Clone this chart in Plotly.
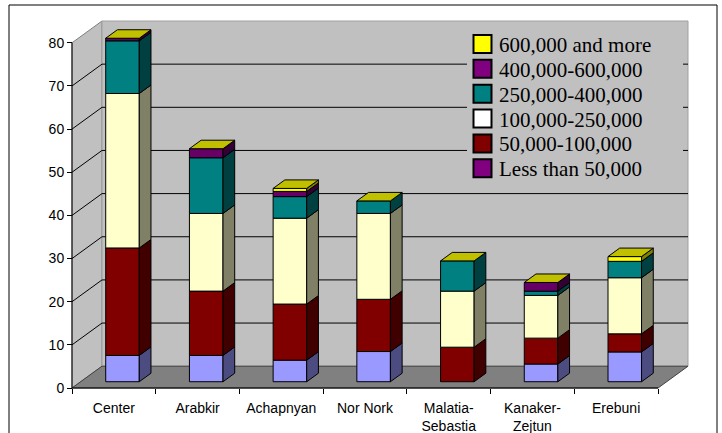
import plotly.graph_objects as go

# ---- data -------------------------------------------------------------
categories = ["Center", "Arabkir", "Achapnyan", "Nor Nork",
              "Malatia-Sebastia", "Kanaker-Zejtun", "Erebuni"]
tick_labels = ["Center", "Arabkir", "Achapnyan", "Nor Nork",
               "Malatia-<br>Sebastia", "Kanaker-<br>Zejtun", "Erebuni"]

less_50k = [6.1, 6.1, 5.0, 7.0, 0.0, 4.1, 6.9]
k50_100k = [24.9, 14.9, 13.0, 12.1, 8.0, 6.0, 4.2]
k100_250k = [35.8, 18.0, 19.9, 19.9, 13.0, 9.9, 13.0]
k250_400k = [12.2, 12.9, 5.0, 2.9, 7.0, 1.0, 3.8]
k400_600k = [0.6, 2.1, 1.2, 0.0, 0.0, 2.0, 0.0]
k600_plus = [0.0, 0.0, 0.7, 0.0, 0.0, 0.0, 1.1]

series_names = ["Less than 50,000", "50,000-100,000", "100,000-250,000",
                "250,000-400,000", "400,000-600,000", "600,000 and more"]
series_values = [less_50k, k50_100k, k100_250k, k250_400k, k400_600k, k600_plus]

y_ticks = [0, 10, 20, 30, 40, 50, 60, 70, 80]

# ---- styling ----------------------------------------------------------
front_colors = ["#9999FF", "#800000", "#FFFFCC", "#008080", "#660066", "#FFFF00"]
side_colors = ["#4C4C80", "#400000", "#808066", "#004040", "#330033", "#808000"]
legend_colors = ["#800080", "#800000", "#FFFFFF", "#008080", "#800080", "#FFFF00"]
top_color = "#C0C000"
wall_color = "#C0C0C0"
floor_color = "#808080"

N = len(categories)
VMAX = 80
DX = 0.3584      # full depth of the box, in category units
DY = 5.05        # full depth of the box, in value units
Z0 = 0.288       # depth of the column front faces
ZB = 0.39        # depth of the columns
BW = 0.401       # column width

# plot area in pixels
W_PX, H_PX = 722, 433
L, R, T, B = 70, 32, 19, 43
PW, PH = W_PX - L - R, H_PX - T - B
X_PAD = 2 / 83.71
Y_PAD = 2 / 4.315
X_RANGE = [-X_PAD, N + DX + X_PAD]
Y_RANGE = [-Y_PAD, VMAX + DY + Y_PAD]

# legend box (pixels)
LEG_X0, LEG_X1, LEG_Y0, LEG_Y1 = 467, 683, 25, 184


def paper(px, py):
    return (px - L) / PW, (H_PX - B - py) / PH


def data(px, py):
    fx, fy = paper(px, py)
    return (X_RANGE[0] + fx * (X_RANGE[1] - X_RANGE[0]),
            Y_RANGE[0] + fy * (Y_RANGE[1] - Y_RANGE[0]))


def px_y(v):
    return H_PX - B - (v - Y_RANGE[0]) / (Y_RANGE[1] - Y_RANGE[0]) * PH


fig = go.Figure()
shapes = []
annotations = []

# ---- box: side wall, back wall, floor ---------------------------------
shapes.append(dict(type="path", xref="x", yref="y", layer="below",
                   path=f"M 0,0 L 0,{VMAX} L {DX},{VMAX + DY} L {DX},{DY} Z",
                   fillcolor=wall_color, line=dict(color="#808080", width=1)))
shapes.append(dict(type="path", xref="x", yref="y", layer="below",
                   path=f"M {DX},{DY} L {N + DX},{DY} L {N + DX},{VMAX + DY} L {DX},{VMAX + DY} Z",
                   fillcolor=wall_color, line=dict(color="#A0A0A0", width=1)))
shapes.append(dict(type="path", xref="x", yref="y", layer="below",
                   path=f"M 0,0 L {N},0 L {N + DX},{DY} L {DX},{DY} Z",
                   fillcolor=floor_color, line=dict(color="#404040", width=1)))

# gridlines on the side wall and back wall (interrupted by the legend box)
leg_xa = data(LEG_X0, 0)[0]
leg_xb = data(LEG_X1, 0)[0]
for v in y_ticks[1:-1]:
    shapes.append(dict(type="line", xref="x", yref="y", layer="below",
                       x0=0, y0=v, x1=DX, y1=v + DY,
                       line=dict(color="black", width=1)))
    gy = v + DY
    if LEG_Y0 <= px_y(gy) <= LEG_Y1:
        spans = [(DX, leg_xa), (leg_xb, N + DX)]
    else:
        spans = [(DX, N + DX)]
    for xa, xb in spans:
        shapes.append(dict(type="line", xref="x", yref="y", layer="below",
                           x0=xa, y0=gy, x1=xb, y1=gy,
                           line=dict(color="black", width=1)))

# value axis line and category axis line on the front edges
shapes.append(dict(type="line", xref="x", yref="y", layer="below",
                   x0=0, y0=0, x1=0, y1=VMAX, line=dict(color="black", width=1)))
shapes.append(dict(type="line", xref="x", yref="y", layer="below",
                   x0=0, y0=0, x1=N, y1=0, line=dict(color="black", width=1)))

# ---- stacked 3D columns -----------------------------------------------
cum = [0.0] * N
for s, vals in enumerate(series_values):
    xs, ys, bases = [], [], []
    sx, sy = [], []
    for i, v in enumerate(vals):
        if v <= 0:
            continue
        xc = i + 0.5 + Z0 * DX
        b = cum[i] + Z0 * DY
        xs.append(xc)
        ys.append(v)
        bases.append(b)
        xr = xc + BW / 2
        t = b + v
        sx += [xr, xr + ZB * DX, xr + ZB * DX, xr, xr, None]
        sy += [b, b + ZB * DY, t + ZB * DY, t, b, None]
        cum[i] += v
    fig.add_trace(go.Bar(x=xs, y=ys, base=bases, width=BW, name=series_names[s],
                         marker=dict(color=front_colors[s],
                                     line=dict(color="black", width=1)),
                         showlegend=False))
    fig.add_trace(go.Scatter(x=sx, y=sy, mode="lines", fill="toself",
                             fillcolor=side_colors[s],
                             line=dict(color="black", width=1),
                             hoverinfo="skip", showlegend=False))

# top faces of the stacks
tx, ty = [], []
for i in range(N):
    xl = i + 0.5 + Z0 * DX - BW / 2
    xr = xl + BW
    top = cum[i] + Z0 * DY
    tx += [xl, xr, xr + ZB * DX, xl + ZB * DX, xl, None]
    ty += [top, top, top + ZB * DY, top + ZB * DY, top, None]
fig.add_trace(go.Scatter(x=tx, y=ty, mode="lines", fill="toself",
                         fillcolor=top_color, line=dict(color="black", width=1),
                         hoverinfo="skip", showlegend=False))

# ---- legend -----------------------------------------------------------
row_y = [44.0 + k * 24.86 for k in range(6)]
for k, s in enumerate(reversed(range(len(series_names)))):
    cy = row_y[k]
    x0, y0 = paper(473.5, cy + 9)
    x1, y1 = paper(491.5, cy - 9)
    shapes.append(dict(type="rect", xref="paper", yref="paper", layer="above",
                       x0=x0, y0=y0, x1=x1, y1=y1,
                       fillcolor=legend_colors[s], line=dict(color="black", width=2)))
    ax, ay = paper(497, cy + 1)
    annotations.append(dict(xref="paper", yref="paper", x=ax, y=ay,
                            xanchor="left", yanchor="middle", showarrow=False,
                            text=series_names[s],
                            font=dict(family="Liberation Serif, Times New Roman, serif",
                                      size=21, color="black")))

# outer frame
fx0, fy0 = paper(9, 5)
fx1, fy1 = paper(717, 460)
shapes.append(dict(type="rect", xref="paper", yref="paper", layer="above",
                   x0=fx0, y0=fy1, x1=fx1, y1=fy0,
                   fillcolor="rgba(0,0,0,0)", line=dict(color="black", width=1)))

axis_font = dict(family="Liberation Sans, Arial, sans-serif", size=14, color="black")

fig.update_layout(
    width=W_PX, height=H_PX,
    margin=dict(l=L, r=R, t=T, b=B, pad=0, autoexpand=False),
    paper_bgcolor="white", plot_bgcolor="white",
    barmode="overlay",
    showlegend=False,
    shapes=shapes,
    annotations=annotations,
    xaxis=dict(range=X_RANGE, showgrid=False, zeroline=False,
               showline=False, tickmode="array",
               tickvals=[i + 0.5 for i in range(N)], ticktext=tick_labels,
               ticks="", tickfont=axis_font, fixedrange=True,
               ticklabelstandoff=10, automargin=False,
               anchor="free", position=paper(0, 388)[1],
               minor=dict(tickmode="array", tickvals=list(range(N + 1)),
                          ticks="outside", ticklen=5, tickcolor="black",
                          tickwidth=1, showgrid=False)),
    yaxis=dict(range=Y_RANGE, showgrid=False, zeroline=False,
               showline=False, tickmode="array", tickvals=y_ticks,
               ticks="outside", ticklen=5, tickcolor="black", tickwidth=1,
               tickfont=axis_font, fixedrange=True, automargin=False,
               anchor="free", position=paper(72, 0)[0]),
)

fig.write_html("out.html")
